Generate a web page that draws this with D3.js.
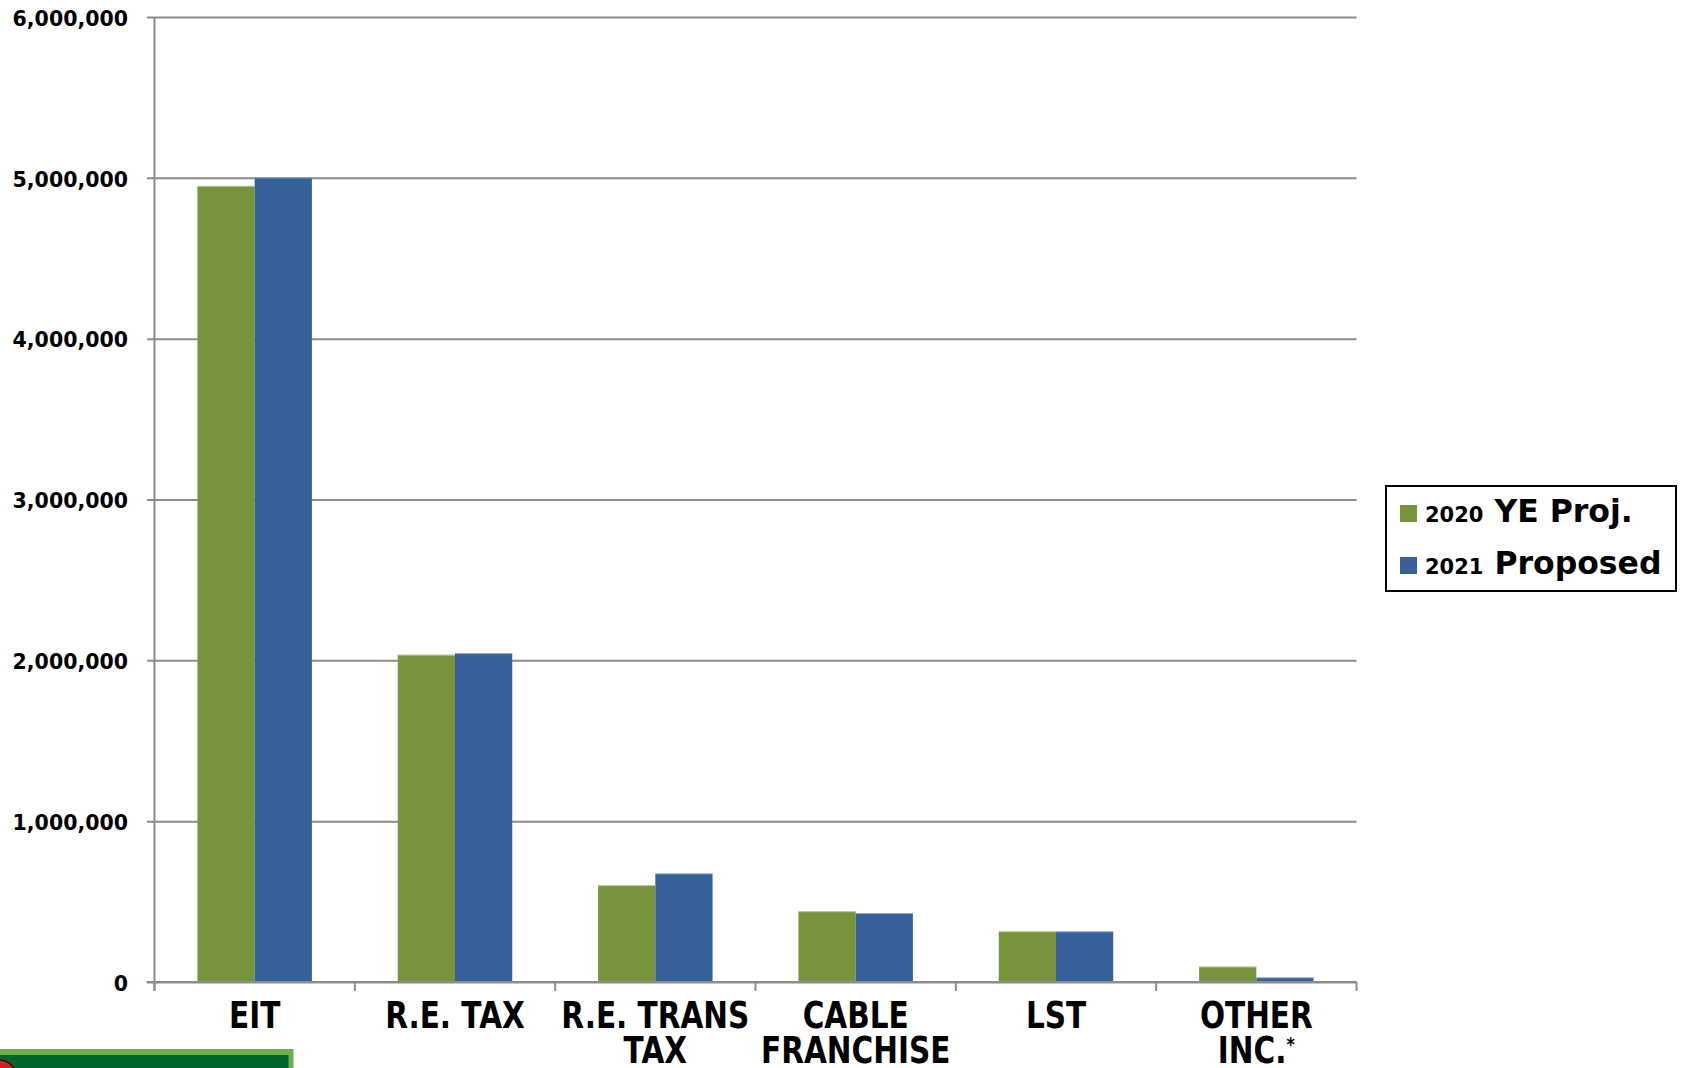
<!DOCTYPE html>
<html>
<head>
<meta charset="utf-8">
<script src="https://cdn.jsdelivr.net/npm/d3@7"></script>
<style>
  html, body { margin: 0; padding: 0; background: #ffffff; }
  svg { display: block; }
</style>
</head>
<body>
<svg id="chart" width="1683" height="1068"></svg>
<script>
// ---- data ----
const categories = ["EIT", "R.E. TAX", "R.E. TRANS TAX", "CABLE FRANCHISE", "LST", "OTHER INC.*"];
const categoryLines = [["EIT"], ["R.E. TAX"], ["R.E. TRANS", "TAX"], ["CABLE", "FRANCHISE"], ["LST"], ["OTHER", "INC.*"]];
const series2020 = [4950000, 2035000, 602000, 440000, 315000, 96000];
const series2021 = [5003000, 2045000, 675000, 429000, 315000, 29000];
const seriesNames = [["2020", "YE Proj."], ["2021", "Proposed"]];
const yTicks = [0, 1000000, 2000000, 3000000, 4000000, 5000000, 6000000];

(function () {
// ---- layout ----
const svg = d3.select("#chart");
const pLeft = 154.5, pRight = 1356.5, pTop = 17, pBottom = 982;
const colors = ["#77933C", "#36609A"];
const gridColor = "#8c8c8c";

const x = d3.scaleBand().domain(categories).range([pLeft, pRight]).paddingInner(0).paddingOuter(0);
const barW = x.bandwidth() / 3.5;
const y = d3.scaleLinear().domain([0, 6000000]).range([pBottom, pTop]);

// gridlines + y tick labels
const yAxis = d3.axisLeft(y).tickValues(yTicks).tickSize(-(pRight - pLeft)).tickSizeOuter(0)
  .tickFormat(d3.format(","));
const gy = svg.append("g").attr("transform", `translate(${pLeft},0)`).call(yAxis);
gy.select(".domain").remove();
gy.selectAll(".tick line").attr("stroke", gridColor).attr("stroke-width", 2).attr("x1", -7.5);
gy.selectAll(".tick text")
  .attr("x", -26.5)
  .attr("dy", "0.4em")
  .attr("fill", "#000")
  .style("font-family", "'DejaVu Sans', sans-serif")
  .style("font-weight", "bold")
  .style("font-size", "20.5px");

// y axis line
svg.append("line").attr("x1", pLeft).attr("x2", pLeft).attr("y1", pTop).attr("y2", pBottom + 9)
  .attr("stroke", gridColor).attr("stroke-width", 2);

// bars
const data = categories.map((c, i) => ({ c, vals: [series2020[i], series2021[i]] }));
const groups = svg.append("g").selectAll("g").data(data).join("g")
  .attr("transform", d => `translate(${x(d.c) + barW * 0.75},0)`);
groups.selectAll("rect").data(d => d.vals.map((v, k) => ({ v, k }))).join("rect")
  .attr("x", d => d.k * barW)
  .attr("width", barW)
  .attr("y", d => y(d.v))
  .attr("height", d => y(0) - y(d.v))
  .attr("fill", d => colors[d.k]);
groups.selectAll("line.edge").data(d => d.vals.map((v, k) => ({ v, k }))).join("line")
  .attr("class", "edge")
  .attr("x1", d => d.k * barW).attr("x2", d => (d.k + 1) * barW)
  .attr("y1", d => y(d.v) + 0.5).attr("y2", d => y(d.v) + 0.5)
  .attr("stroke", "rgba(255,255,255,0.45)").attr("stroke-width", 1);

// x axis
const gx = svg.append("g").attr("transform", `translate(0,${pBottom})`);
gx.append("line").attr("x1", pLeft - 8).attr("x2", pRight).attr("y1", 0).attr("y2", 0)
  .attr("stroke", gridColor).attr("stroke-width", 2);
const boundaries = categories.map(c => x(c)).concat([pRight]);
gx.selectAll("line.tk").data(boundaries).join("line").attr("class", "tk")
  .attr("x1", d => d).attr("x2", d => d).attr("y1", 0).attr("y2", 9)
  .attr("stroke", gridColor).attr("stroke-width", 2);

// category labels (bold, horizontally condensed)
const labelFont = "'DejaVu Sans', sans-serif";
const labelSize = 37;
const probe = svg.append("text").style("font-family", labelFont).style("font-weight", "bold")
  .style("font-size", labelSize + "px").text("R.E. TRANS");
const sx = 188 / probe.node().getComputedTextLength();
probe.remove();

const labels = svg.append("g").selectAll("text").data(categories).join("text")
  .attr("text-anchor", "middle")
  .attr("transform", c => `translate(${x(c) + x.bandwidth() / 2},1028) scale(${sx},1)`)
  .attr("x", 0).attr("y", 0)
  .attr("fill", "#000")
  .style("font-family", labelFont)
  .style("font-weight", "bold")
  .style("font-size", labelSize + "px");
labels.each(function (c, i) {
  const t = d3.select(this);
  categoryLines[i].forEach((line, j) => {
    if (line.endsWith("*")) {
      const ts = t.append("tspan").attr("x", 0).attr("dy", j === 0 ? 0 : 35.5);
      ts.append("tspan").text(line.slice(0, -1));
      ts.append("tspan").text("*").style("font-size", "20px").attr("dy", -12);
    } else {
      t.append("tspan").attr("x", 0).attr("dy", j === 0 ? 0 : 35.5).text(line);
    }
  });
});

// legend
const lg = svg.append("g");
lg.append("rect").attr("x", 1386).attr("y", 486).attr("width", 290).attr("height", 105)
  .attr("fill", "#fff").attr("stroke", "#000").attr("stroke-width", 2);
seriesNames.forEach((nm, k) => {
  const by = 522 + k * 52;
  lg.append("rect").attr("x", 1400).attr("y", by - 17).attr("width", 17).attr("height", 17).attr("fill", colors[k]);
  const t = lg.append("text").attr("x", 1425).attr("y", by).attr("fill", "#000")
    .style("font-family", "'DejaVu Sans', sans-serif").style("font-weight", "bold");
  t.append("tspan").text(nm[0]).style("font-size", "21px");
  t.append("tspan").text(" " + nm[1]).style("font-size", "31.5px");
});

// bottom-left decoration
const deco = svg.append("g");
deco.append("rect").attr("x", -5).attr("y", 1049).attr("width", 298.5).attr("height", 30).attr("fill", "#6fae4f");
deco.append("rect").attr("x", -5).attr("y", 1055).attr("width", 293.5).attr("height", 30).attr("fill", "#00652e");
deco.append("circle").attr("cx", -2).attr("cy", 1080).attr("r", 20).attr("fill", "#d0221c").attr("stroke", "#3a0a08").attr("stroke-width", 1.5);
})();
</script>
</body>
</html>
